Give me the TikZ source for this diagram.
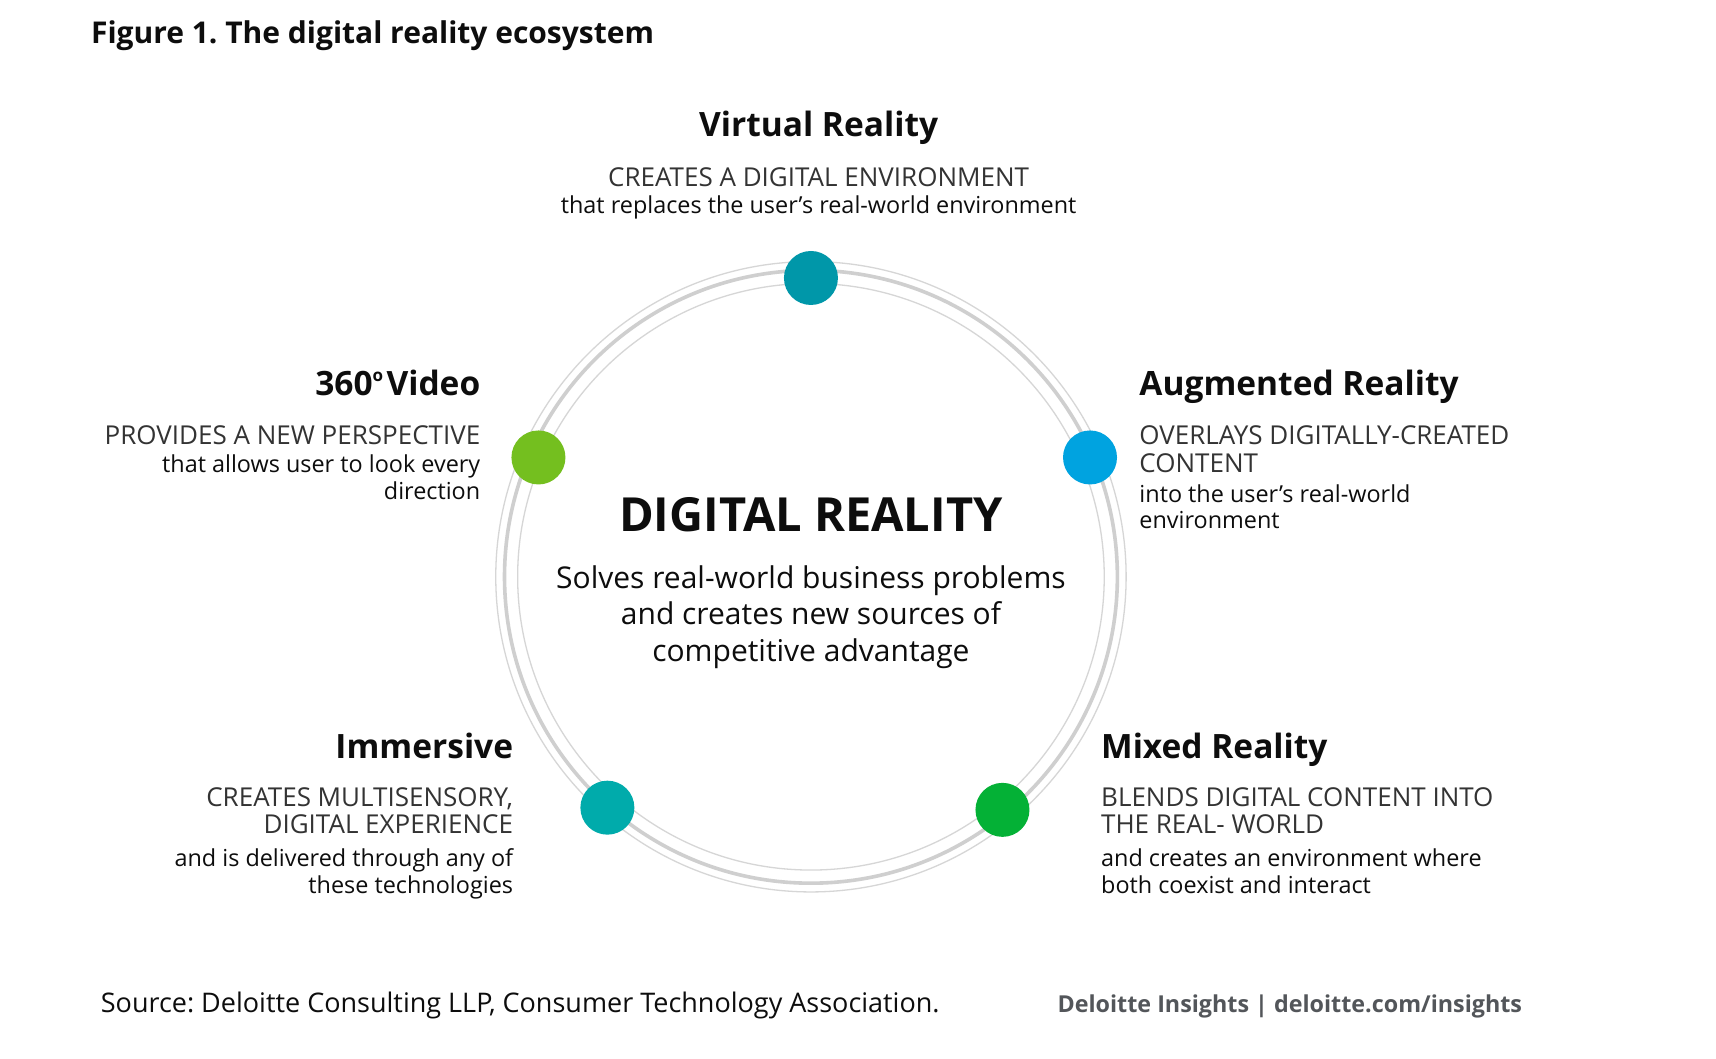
\documentclass[tikz,border=0pt]{standalone}
\usepackage{fontspec}
\setmainfont{Open Sans}
\frenchspacing
\definecolor{ringA}{HTML}{D6D6D6}
\definecolor{ringB}{HTML}{CFCFCF}
\definecolor{dotVR}{HTML}{0097A9}
\definecolor{dotVid}{HTML}{74BF1F}
\definecolor{dotAR}{HTML}{00A3E0}
\definecolor{dotIm}{HTML}{00ABAB}
\definecolor{dotMR}{HTML}{04B136}
\definecolor{txt}{HTML}{0D0D0D}
\definecolor{capstxt}{HTML}{333333}
\definecolor{footgray}{HTML}{53565A}
\tikzset{
  head/.style={font=\bfseries\fontsize{33.5}{36}\selectfont, inner sep=0pt, text=txt},
  capsline/.style={font=\fontsize{26}{28}\selectfont, inner sep=0pt, text=capstxt},
  descline/.style={font=\fontsize{23.4}{26}\selectfont, inner sep=0pt, text=txt},
  centerline/.style={font=\fontsize{30}{33}\selectfont, inner sep=0pt, text=txt},
  dot/.style={circle, inner sep=0pt, minimum size=54pt, draw=none},
  thinring/.style={draw=ringA, line width=1.3pt},
  thickring/.style={draw=ringB, line width=3.6pt}
}
\begin{document}
\begin{tikzpicture}[x=1.0944pt,y=-1.0944pt]
\useasboundingbox[fill=white] (0,0) rectangle (1568,967);
% title
\node[anchor=base west, inner sep=0pt, font=\bfseries\fontsize{30}{34}\selectfont, text=txt] (title) at (83,40) {Figure 1. The digital reality ecosystem};
% rings
\coordinate (c) at (741,527);
\draw[thinring] (c) circle[radius=288];
\draw[thickring] (c) circle[radius=280];
\draw[thinring] (c) circle[radius=268];
% dots
\node[dot, fill=dotVR] (dvr) at (741,254) {};
\node[dot, fill=dotVid] (dvid) at (492,418) {};
\node[dot, fill=dotAR] (dar) at (996,418) {};
\node[dot, fill=dotIm] (dim) at (555,738) {};
\node[dot, fill=dotMR] (dmr) at (916,740) {};
% center
\node[anchor=base, inner sep=0pt, font=\bfseries\fontsize{47}{52}\selectfont, text=txt] (dr) at (741,486) {DIGITAL REALITY};
\node[centerline, anchor=base] (dr1) at (741,538) {Solves real-world business problems};
\node[centerline, anchor=base] (dr2) at (741,571) {and creates new sources of};
\node[centerline, anchor=base] (dr3) at (741,604) {competitive advantage};
% Virtual Reality
\node[head, anchor=base] (vrh) at (748,125) {Virtual Reality};
\node[capsline, anchor=base] (vrc) at (748,170) {CREATES A DIGITAL ENVIRONMENT};
\node[descline, anchor=base] (vrd) at (748,195) {that replaces the user’s real-world environment};
% 360 Video
\node[head, anchor=base east] (vidh) at (439,361) {360\raisebox{0.42em}{\fontsize{17}{18}\selectfont o}\hspace{0.1em}Video};
\node[capsline, anchor=base east] (vidc) at (439,406) {PROVIDES A NEW PERSPECTIVE};
\node[descline, anchor=base east] (vidd1) at (439,432) {that allows user to look every};
\node[descline, anchor=base east] (vidd2) at (439,456) {direction};
% Augmented Reality
\node[head, anchor=base west] (arh) at (1041,361) {Augmented Reality};
\node[capsline, anchor=base west] (arc1) at (1041,406) {OVERLAYS DIGITALLY-CREATED};
\node[capsline, anchor=base west] (arc2) at (1041,432) {CONTENT};
\node[descline, anchor=base west] (ard1) at (1041,459) {into the user’s real-world};
\node[descline, anchor=base west] (ard2) at (1041,483) {environment};
% Immersive
\node[head, anchor=base east] (imh) at (469,693) {Immersive};
\node[capsline, anchor=base east] (imc1) at (469,737) {CREATES MULTISENSORY,};
\node[capsline, anchor=base east] (imc2) at (469,762) {DIGITAL EXPERIENCE};
\node[descline, anchor=base east] (imd1) at (469,792) {and is delivered through any of};
\node[descline, anchor=base east] (imd2) at (469,816) {these technologies};
% Mixed Reality
\node[head, anchor=base west] (mrh) at (1006,693) {Mixed Reality};
\node[capsline, anchor=base west] (mrc1) at (1006,737) {BLENDS DIGITAL CONTENT INTO};
\node[capsline, anchor=base west] (mrc2) at (1006,762) {THE REAL- WORLD};
\node[descline, anchor=base west] (mrd1) at (1006,792) {and creates an environment where};
\node[descline, anchor=base west] (mrd2) at (1006,816) {both coexist and interact};
% footer
\node[anchor=base west, inner sep=0pt, font=\fontsize{27}{30}\selectfont, text=txt] (src) at (92,925) {Source: Deloitte Consulting LLP, Consumer Technology Association.};
\node[anchor=base east, inner sep=0pt, font=\bfseries\fontsize{23.3}{26}\selectfont, text=footgray] (ins) at (1391,925) {Deloitte Insights | deloitte.com/insights};
\end{tikzpicture}
\end{document}
